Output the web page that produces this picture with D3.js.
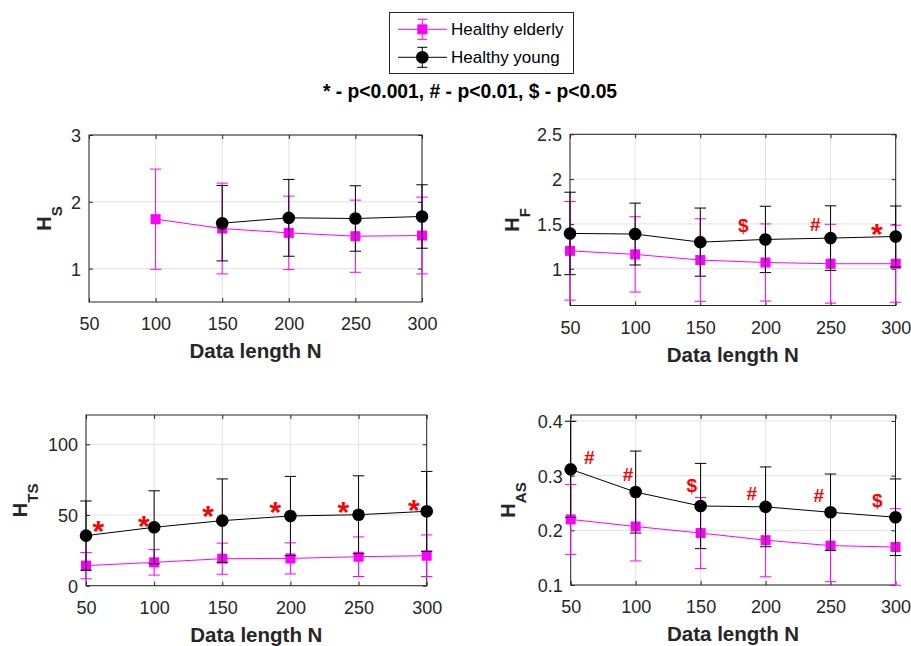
<!DOCTYPE html>
<html>
<head>
<meta charset="utf-8">
<script src="https://cdn.jsdelivr.net/npm/d3@7"></script>
<style>
  html, body { margin: 0; padding: 0; background: #fff; }
  svg { display: block; font-family: "Liberation Sans", Arial, Helvetica, sans-serif; }
</style>
</head>
<body>
<svg id="chart" width="911" height="646"></svg>
<script>
// ---------- DATA ----------
const dataLength = [50, 100, 150, 200, 250, 300];
const seriesNames = ["Healthy elderly", "Healthy young"];
const titleText = "* - p<0.001, # - p<0.01, $ - p<0.05";
const xTicks = [50, 100, 150, 200, 250, 300];

// H_S
const hsElderlyMean = [null, 1.74, 1.60, 1.535, 1.485, 1.495];
const hsElderlySD   = [null, 0.75, 0.68, 0.55, 0.54, 0.575];
const hsYoungMean   = [null, null, 1.68, 1.76, 1.75, 1.78];
const hsYoungSD     = [null, null, 0.565, 0.575, 0.49, 0.475];
const hsYTicks = [1, 2, 3];
const hsMarks = [];

// H_F
const hfElderlyMean = [1.20, 1.16, 1.097, 1.07, 1.056, 1.056];
const hfElderlySD   = [0.55, 0.42, 0.46, 0.43, 0.44, 0.43];
const hfYoungMean   = [1.394, 1.387, 1.297, 1.327, 1.342, 1.36];
const hfYoungSD     = [0.46, 0.345, 0.38, 0.37, 0.36, 0.34];
const hfYTicks = [1, 1.5, 2, 2.5];
const hfMarks = [
  { s: "$", n: 183, v: 1.48 },
  { s: "#", n: 238.3, v: 1.50 },
  { s: "*", n: 285.6, v: 1.47 }
];

// H_TS
const htsElderlyMean = [14.2, 16.5, 19.1, 19.3, 20.5, 21.2];
const htsElderlySD   = [9.3, 9.0, 11.0, 11.0, 14.0, 14.7];
const htsYoungMean   = [35.4, 41.3, 46.0, 49.3, 50.2, 52.6];
const htsYoungSD     = [24.5, 25.8, 29.5, 28.0, 27.5, 28.2];
const htsYTicks = [0, 50, 100];
const htsMarks = [
  { s: "*", n: 59, v: 44.2 },
  { s: "*", n: 92.4, v: 47.7 },
  { s: "*", n: 139.5, v: 54.3 },
  { s: "*", n: 188.9, v: 57.6 },
  { s: "*", n: 238.8, v: 57.6 },
  { s: "*", n: 290.5, v: 59.0 }
];

// H_AS
const hasElderlyMean = [0.220, 0.207, 0.195, 0.182, 0.172, 0.1695];
const hasElderlySD   = [0.064, 0.063, 0.065, 0.067, 0.066, 0.070];
const hasYoungMean   = [0.3116, 0.270, 0.2445, 0.243, 0.233, 0.224];
const hasYoungSD     = [0.088, 0.075, 0.078, 0.073, 0.070, 0.070];
const hasYTicks = [0.1, 0.2, 0.3, 0.4];
const hasMarks = [
  { s: "#", n: 64.3, v: 0.333 },
  { s: "#", n: 94.2, v: 0.3036 },
  { s: "$", n: 143.2, v: 0.283 },
  { s: "#", n: 189.4, v: 0.268 },
  { s: "#", n: 240.9, v: 0.264 },
  { s: "$", n: 285.9, v: 0.2555 }
];

// ---------- LAYOUT / STYLE ----------
const colElderly = "#ff00ff";
const colYoung = "#000000";
const axisCol = "#262626";
const gridCol = "#e2e2e2";
const annCol = "#ff0000";

const panels = [
  { sub: "S", box: [89, 135, 422, 302], yDomain: [0.5, 3], yTicks: hsYTicks, fmt: d3.format("d"), labOff: 38,
    eM: hsElderlyMean, eS: hsElderlySD, yM: hsYoungMean, yS: hsYoungSD, marks: hsMarks },
  { sub: "F", box: [570, 134.3, 895.7, 305.5], yDomain: [0.59, 2.5], yTicks: hfYTicks, fmt: d => String(d), labOff: 51,
    eM: hfElderlyMean, eS: hfElderlySD, yM: hfYoungMean, yS: hfYoungSD, marks: hfMarks },
  { sub: "TS", box: [86, 415, 426.7, 585.7], yDomain: [0, 120.7], yTicks: htsYTicks, fmt: d3.format("d"), labOff: 59,
    eM: htsElderlyMean, eS: htsElderlySD, yM: htsYoungMean, yS: htsYoungSD, marks: htsMarks },
  { sub: "AS", box: [570.7, 415, 895.5, 585], yDomain: [0.1, 0.411], yTicks: hasYTicks, fmt: d3.format(".1f"), labOff: 56,
    eM: hasElderlyMean, eS: hasElderlySD, yM: hasYoungMean, yS: hasYoungSD, marks: hasMarks }
];

const svg = d3.select("#chart");
const tickLen = 4;
const capHalf = 5.7;

function drawSeries(g, x, y, means, sds, color, marker) {
  const pts = dataLength.map((n, i) => ({ n, m: means[i], s: sds[i] })).filter(d => d.m != null);
  const line = d3.line().x(d => x(d.n)).y(d => y(d.m));
  g.append("path").attr("d", line(pts)).attr("fill", "none").attr("stroke", color).attr("stroke-width", 1);
  const eb = g.append("g").attr("stroke", color).attr("stroke-width", 1).attr("fill", "none");
  pts.forEach(d => {
    const y0 = y(d.m - d.s), y1 = y(d.m + d.s), cx = x(d.n);
    eb.append("line").attr("x1", cx).attr("x2", cx).attr("y1", y0).attr("y2", y1);
    eb.append("line").attr("x1", cx - capHalf).attr("x2", cx + capHalf).attr("y1", y0).attr("y2", y0);
    eb.append("line").attr("x1", cx - capHalf).attr("x2", cx + capHalf).attr("y1", y1).attr("y2", y1);
  });
  pts.forEach(d => {
    if (marker === "square") {
      g.append("rect").attr("x", x(d.n) - 5).attr("y", y(d.m) - 5).attr("width", 10).attr("height", 10).attr("fill", color);
    } else {
      g.append("circle").attr("cx", x(d.n)).attr("cy", y(d.m)).attr("r", 6.3).attr("fill", color);
    }
  });
}

const annFont = { "*": 30, "#": 19, "$": 19 };
const baseK = { "*": 0.58, "#": 0.36, "$": 0.35 };

panels.forEach(p => {
  const [L, T, R, B] = p.box;
  const x = d3.scaleLinear().domain([50, 300]).range([L, R]);
  const y = d3.scaleLinear().domain(p.yDomain).range([B, T]);
  const g = svg.append("g");

  // grid
  const grid = g.append("g").attr("stroke", gridCol).attr("stroke-width", 1);
  xTicks.forEach(t => grid.append("line").attr("x1", x(t)).attr("x2", x(t)).attr("y1", T).attr("y2", B));
  p.yTicks.forEach(t => grid.append("line").attr("x1", L).attr("x2", R).attr("y1", y(t)).attr("y2", y(t)));

  // axes via d3 axes (ticks inward)
  const xAx = d3.axisBottom(x).tickValues(xTicks).tickSize(-tickLen).tickPadding(tickLen + 12).tickFormat(d3.format("d"));
  const gx = g.append("g").attr("transform", `translate(0,${B})`).call(xAx);
  const xTop = d3.axisTop(x).tickValues(xTicks).tickSize(-tickLen).tickFormat("");
  const gxt = g.append("g").attr("transform", `translate(0,${T})`).call(xTop);
  const yAx = d3.axisLeft(y).tickValues(p.yTicks).tickSize(-tickLen).tickPadding(tickLen + 4).tickFormat(p.fmt);
  const gy = g.append("g").attr("transform", `translate(${L},0)`).call(yAx);
  const yR = d3.axisRight(y).tickValues(p.yTicks).tickSize(-tickLen).tickFormat("");
  const gyr = g.append("g").attr("transform", `translate(${R},0)`).call(yR);
  [gx, gxt, gy, gyr].forEach(a => {
    a.select(".domain").remove();
    a.selectAll("line").attr("stroke", axisCol);
    a.selectAll("text").attr("fill", axisCol).style("font-size", "18px").style("font-family", "'Liberation Sans', Arial, sans-serif");
  });
  gx.selectAll("text").attr("dy", "0").attr("y", 28);
  gy.selectAll("text").attr("dy", "0.36em");

  // box
  g.append("rect").attr("x", L).attr("y", T).attr("width", R - L).attr("height", B - T)
    .attr("fill", "none").attr("stroke", axisCol).attr("stroke-width", 1);

  // series
  drawSeries(g, x, y, p.eM, p.eS, colElderly, "square");
  drawSeries(g, x, y, p.yM, p.yS, colYoung, "circle");

  // annotations
  p.marks.forEach(m => {
    const fsA = annFont[m.s];
    g.append("text").attr("x", x(m.n)).attr("y", y(m.v) + baseK[m.s] * fsA)
      .attr("text-anchor", "middle").attr("fill", annCol).attr("font-weight", "bold")
      .style("font-size", fsA + "px").text(m.s);
  });

  // x label
  g.append("text").attr("x", (L + R) / 2).attr("y", B + 56).attr("text-anchor", "middle")
    .attr("fill", axisCol).attr("font-weight", "bold").style("font-size", "20.5px").text("Data length N");

  // y label
  const lx = L - p.labOff, ly = (T + B) / 2;
  const yl = g.append("text").attr("transform", `translate(${lx},${ly}) rotate(-90)`)
    .attr("text-anchor", "middle").attr("fill", axisCol).attr("font-weight", "bold");
  yl.append("tspan").style("font-size", "20px").text("H");
  yl.append("tspan").style("font-size", "15px").attr("dy", 11).text(p.sub);
});

// title
svg.append("text").attr("x", 470).attr("y", 98).attr("text-anchor", "middle")
  .attr("font-weight", "bold").attr("fill", "#000").style("font-size", "19.3px").text(titleText);

// legend
const leg = svg.append("g");
leg.append("rect").attr("x", 389.5).attr("y", 12.5).attr("width", 184).attr("height", 61)
  .attr("fill", "#fff").attr("stroke", axisCol).attr("stroke-width", 1);
const legRows = [
  { name: seriesNames[0], color: colElderly, marker: "square", cy: 29.3 },
  { name: seriesNames[1], color: colYoung, marker: "circle", cy: 57.3 }
];
legRows.forEach(r => {
  const cx = 422.3;
  leg.append("line").attr("x1", 398).attr("x2", 447).attr("y1", r.cy).attr("y2", r.cy).attr("stroke", r.color);
  leg.append("line").attr("x1", cx).attr("x2", cx).attr("y1", r.cy - 10).attr("y2", r.cy + 10).attr("stroke", r.color);
  [r.cy - 10, r.cy + 10].forEach(yy => leg.append("line").attr("x1", cx - 5).attr("x2", cx + 5).attr("y1", yy).attr("y2", yy).attr("stroke", r.color));
  if (r.marker === "square") {
    leg.append("rect").attr("x", cx - 5).attr("y", r.cy - 5).attr("width", 10).attr("height", 10).attr("fill", r.color);
  } else {
    leg.append("circle").attr("cx", cx).attr("cy", r.cy).attr("r", 6.3).attr("fill", r.color);
  }
  leg.append("text").attr("x", 451).attr("y", r.cy + 6).attr("fill", "#000").style("font-size", "17px").text(r.name);
});
</script>
</body>
</html>
